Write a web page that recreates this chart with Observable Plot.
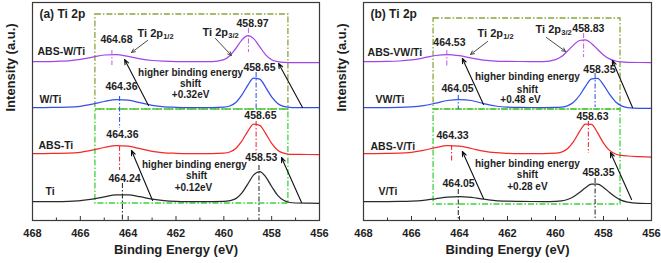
<!DOCTYPE html>
<html><head><meta charset="utf-8">
<script src="https://cdn.jsdelivr.net/npm/d3@7"></script>
<script src="https://cdn.jsdelivr.net/npm/@observablehq/plot@0.6"></script>
<style>
body{margin:0;background:#fff;}
#wrap{display:flex;width:661px;height:263px;overflow:hidden;}
</style></head><body><div id="wrap"></div>
<script>
// ---------- data ----------
const energy = [468, 467.5, 467, 466.5, 466, 465.5, 465, 464.5, 464, 463.5, 463, 462.5, 462, 461.5, 461, 460.5, 460, 459.75, 459.5, 459.25, 459, 458.75, 458.5, 458.25, 458, 457.75, 457.5, 457.25, 457, 456.5, 456];

// panel (a)
const seriesA = ["Ti", "ABS-Ti", "W/Ti", "ABS-W/Ti"];
const tiA     = [19, 19, 19.0, 19.2, 19.8, 21.3, 23.7, 25.7, 25.7, 23.8, 21.4, 19.9, 19.2, 19.0, 19, 19, 19.1, 19.8, 21.9, 27.3, 36.4, 45.6, 48.9, 43.7, 34.0, 25.2, 20.2, 18.0, 17.5, 17.3, 17.2];
const absTiA  = [67, 67, 67.1, 67.3, 68.2, 70.3, 73.0, 74.9, 74.3, 71.8, 69.2, 67.7, 67.2, 67.0, 67, 67, 67.3, 68.5, 72.0, 79.3, 89.2, 96.3, 95.2, 86.9, 77.1, 70.3, 67.3, 66.2, 66.1, 66, 66];
const wTiA    = [113, 113, 113.1, 113.3, 114.2, 116.3, 119.0, 120.9, 120.3, 117.8, 115.2, 113.7, 113.2, 113, 113, 113, 113.3, 114.5, 118.0, 125.3, 135.2, 142.3, 141.4, 133.2, 123.6, 117.0, 114.1, 113.2, 113, 113, 113];
const absWTiA = [159, 159, 159.2, 159.7, 161.1, 163.4, 165.5, 165.8, 164.1, 161.7, 160.0, 159.3, 159.0, 159, 159, 159, 160.9, 164.8, 172.0, 180.4, 184.9, 181.9, 173.8, 165.7, 160.8, 158.9, 158.1, 158, 158, 158, 158];
const peak12A = [464.24, 464.36, 464.36, 464.68];
const peak32A = [458.53, 458.65, 458.65, 458.97];
const shiftA  = ["+0.12eV", "+0.32eV"];

// panel (b)
const seriesB = ["V/Ti", "ABS-V/Ti", "VW/Ti", "ABS-VW/Ti"];
const vTiB     = [19, 19, 19, 19.1, 19.4, 20.2, 21.7, 23.3, 24.0, 23.1, 21.3, 19.9, 19.3, 19.1, 19, 19, 19.2, 19.7, 21.0, 23.7, 28.0, 32.8, 36.3, 36.3, 33.1, 28.1, 23.5, 20.1, 18.4, 17.2, 17];
const absVTiB  = [67, 67, 67.1, 67.3, 68.2, 70.1, 72.9, 74.8, 74.4, 72.0, 69.4, 67.8, 67.2, 67.0, 67, 67, 67.3, 68.4, 71.8, 78.9, 88.9, 96.5, 96.1, 87.8, 77.4, 70.1, 66.5, 65.1, 64.5, 63.8, 63.3];
const vwTiB    = [113, 113, 113, 113.1, 113.6, 114.9, 117.3, 120.0, 121.0, 120.0, 116.9, 114.5, 113.4, 113.1, 113, 113, 113.1, 113.4, 114.7, 118.2, 125.0, 134.2, 141.6, 142.2, 135.7, 126.3, 118.8, 114.6, 112.9, 112.1, 112];
const absVWTiB = [159, 159, 159.1, 159.5, 160.6, 162.6, 165.0, 166.0, 164.8, 162.4, 160.4, 159.4, 159.1, 159, 159, 159, 160.9, 163.9, 169.5, 175.4, 180.0, 180.6, 177.1, 171.2, 165.5, 161.6, 159.5, 158.6, 158.1, 158, 158];
const peak12B = [464.05, 464.33, 464.05, 464.53];
const peak32B = [458.35, 458.63, 458.35, 458.83];
const shiftB  = ["+0.28 eV", "+0.48 eV"];

const majorTicks = [468, 466, 464, 462, 460, 458, 456];
const minorTicks = [467, 465, 463, 461, 459, 457];

// ---------- styling / layout ----------
const lineColors = ["#2a2a2a", "#f42a2a", "#3050e6", "#a244e6"];
const dashColors = ["#333333", "#ee3344", "#3a5ae8", "#c866ee"];
const FONT = '"Liberation Sans", Arial, sans-serif';
const TXT = "#1e1e1e";

const layoutA = {
  width: 330, marginLeft: 32, marginRight: 11,
  title: "(a) Ti 2p", titlePos: [467.71, 206],
  names: [[467.46, 29], [467.75, 75], [467.71, 121], [467.79, 169]],
  lab12: [[464.15, 42], [464.24, 86], [464.28, 134], [464.49, 181]],
  lab32: [[458.43, 63], [458.47, 105], [458.51, 153], [458.80, 197]],
  span12: [[37, 0], [74, 50], [124, 92], [170, 155]],
  span32: [[55, 0], [99, 67], [148, 111], [192, 168]],
  ti12: [463.61, 187], ti32: [460.89, 188],
  hbe: [[[461.23, 56], [461.14, 45], [461.27, 33]], [[461.39, 148], [461.39, 137], [461.39, 126]]],
  grayArrows: [[463.19, 180, 463.86, 168], [460.35, 182, 459.68, 165]],
  blackArrows: [[463.15, 115, 464.15, 161], [456.71, 113, 457.71, 157], [462.98, 20, 463.86, 70], [456.75, 18, 457.59, 63]],
  boxX: [465.37, 457.30], boxUpper: [111, 206], boxLower: [17, 111]
};
const layoutB = {
  width: 331, marginLeft: 33, marginRight: 10,
  title: "(b) Ti 2p", titlePos: [467.71, 206],
  names: [[467.38, 29], [467.71, 74], [467.5, 121], [467.83, 168]],
  lab12: [[464.04, 37], [464.29, 85], [464.08, 132], [464.42, 178]],
  lab32: [[458.21, 48], [458.46, 104], [458.17, 151], [458.63, 192]],
  span12: [[31, 0], [75, 58], [125, 111], [170, 153]],
  span32: [[42, 0], [99, 67], [147, 113], [187, 163]],
  ti12: [463.25, 187], ti32: [460.83, 191],
  hbe: [[[461.17, 57], [461.17, 46], [461.17, 34]], [[461.17, 144], [461.17, 131], [461.46, 121]]],
  grayArrows: [[462.83, 179, 463.54, 166], [460.38, 183, 459.58, 169]],
  blackArrows: [[463.0, 116, 463.88, 162], [456.79, 113, 457.63, 160], [463.0, 22, 463.88, 69], [456.83, 21, 457.71, 68]],
  boxX: [465.08, 457.29], boxUpper: [111, 202], boxLower: [16, 111]
};

function panel(names, curves, p12, p32, shifts, L) {
  const marks = [];
  const bold = {fontWeight: "bold", fill: TXT};
  // boxes
  marks.push(Plot.rect([{x1: L.boxX[0], x2: L.boxX[1], y1: L.boxUpper[0], y2: L.boxUpper[1]}],
    {x1: "x1", x2: "x2", y1: "y1", y2: "y2", fill: "none", stroke: "#88a63c", strokeWidth: 1.3, strokeDasharray: "6,2,1.5,2"}));
  marks.push(Plot.rect([{x1: L.boxX[0], x2: L.boxX[1], y1: L.boxLower[0], y2: L.boxLower[1]}],
    {x1: "x1", x2: "x2", y1: "y1", y2: "y2", fill: "none", stroke: "#3cd43c", strokeWidth: 1.3, strokeDasharray: "6,2,1.5,2"}));
  // peak dash-dot lines
  names.forEach((n, i) => {
    marks.push(Plot.ruleX([p12[i]], {x: d => d, y1: L.span12[i][0], y2: L.span12[i][1], stroke: dashColors[i], strokeWidth: 1.1, strokeDasharray: "5,2,1.5,2"}));
    marks.push(Plot.ruleX([p32[i]], {x: d => d, y1: L.span32[i][0], y2: L.span32[i][1], stroke: dashColors[i], strokeWidth: 1.1, strokeDasharray: "5,2,1.5,2"}));
  });
  // spectra
  names.forEach((n, i) => {
    const rows = energy.map((e, k) => ({e, v: curves[i][k]}));
    marks.push(Plot.line(rows, {x: "e", y: "v", stroke: lineColors[i], strokeWidth: 1.25, curve: "monotone-x"}));
  });
  // arrows
  const toArr = a => ({x1: a[0], y1: a[1], x2: a[2], y2: a[3]});
  marks.push(Plot.arrow(L.grayArrows.map(toArr), {x1: "x1", y1: "y1", x2: "x2", y2: "y2", stroke: "#4a4a4a", strokeWidth: 1, headLength: 6, headAngle: 50}));
  marks.push(Plot.arrow(L.blackArrows.map(toArr), {x1: "x1", y1: "y1", x2: "x2", y2: "y2", stroke: "#111", strokeWidth: 1.1, headLength: 7, headAngle: 45}));
  // series names
  marks.push(Plot.text(names.map((n, i) => ({n, x: L.names[i][0], y: L.names[i][1]})),
    {x: "x", y: "y", text: "n", textAnchor: "start", fontSize: 10.5, ...bold}));
  // peak labels
  marks.push(Plot.text(p12.map((v, i) => ({t: v.toFixed(2), x: L.lab12[i][0], y: L.lab12[i][1]})),
    {x: "x", y: "y", text: "t", fontSize: 10.5, ...bold}));
  marks.push(Plot.text(p32.map((v, i) => ({t: v.toFixed(2), x: L.lab32[i][0], y: L.lab32[i][1]})),
    {x: "x", y: "y", text: "t", fontSize: 10.5, ...bold}));
  // Ti 2p labels with subscripts
  [[L.ti12, "1/2"], [L.ti32, "3/2"]].forEach(([pos, sub]) => {
    marks.push(Plot.text([{x: pos[0], y: pos[1]}], {x: "x", y: "y", text: () => "Ti 2p", textAnchor: "start", fontSize: 11, ...bold}));
    marks.push(Plot.text([{x: pos[0], y: pos[1]}], {x: "x", y: "y", text: () => sub, textAnchor: "start", dx: 25.7, dy: 3.5, fontSize: 7.5, ...bold}));
  });
  // shift annotations
  L.hbe.forEach((grp, j) => {
    const lines = ["higher binding energy", "shift", shifts[j]];
    marks.push(Plot.text(lines.map((t, k) => ({t, x: grp[k][0], y: grp[k][1]})),
      {x: "x", y: "y", text: "t", fontSize: 10, ...bold}));
  });
  // title
  marks.push(Plot.text([{x: L.titlePos[0], y: L.titlePos[1]}], {x: "x", y: "y", text: () => L.title, textAnchor: "start", fontSize: 12, ...bold}));
  // inward ticks
  marks.push(Plot.ruleX(majorTicks, {x: d => d, y1: 0, y2: 4, stroke: "#333", strokeWidth: 1}));
  marks.push(Plot.ruleX(minorTicks, {x: d => d, y1: 0, y2: 2.5, stroke: "#333", strokeWidth: 1}));
  marks.push(Plot.axisX({ticks: majorTicks, tickSize: 0, tickPadding: 9, tickFormat: d => String(d), fontSize: 11, fontWeight: "bold", fill: TXT, label: null}));
  marks.push(Plot.frame({stroke: "#3a3a3a", strokeWidth: 1.2}));
  // axis titles
  marks.push(Plot.text(["Binding Energy (eV)"], {text: d => d, frameAnchor: "bottom", dy: 33, fontSize: 13, ...bold}));
  marks.push(Plot.text(["Intensity (a.u.)"], {text: d => d, frameAnchor: "left", dx: -22, rotate: -90, fontSize: 13, ...bold}));

  return Plot.plot({
    width: L.width, height: 263,
    marginTop: 2, marginBottom: 43, marginLeft: L.marginLeft, marginRight: L.marginRight,
    style: {fontFamily: FONT, background: "#fff", overflow: "visible"},
    x: {domain: [468, 456]},
    y: {domain: [0, 218], axis: null},
    marks
  });
}

const wrap = document.getElementById("wrap");
wrap.appendChild(panel(seriesA, [tiA, absTiA, wTiA, absWTiA], peak12A, peak32A, shiftA, layoutA));
wrap.appendChild(panel(seriesB, [vTiB, absVTiB, vwTiB, absVWTiB], peak12B, peak32B, shiftB, layoutB));
</script>
</body></html>
